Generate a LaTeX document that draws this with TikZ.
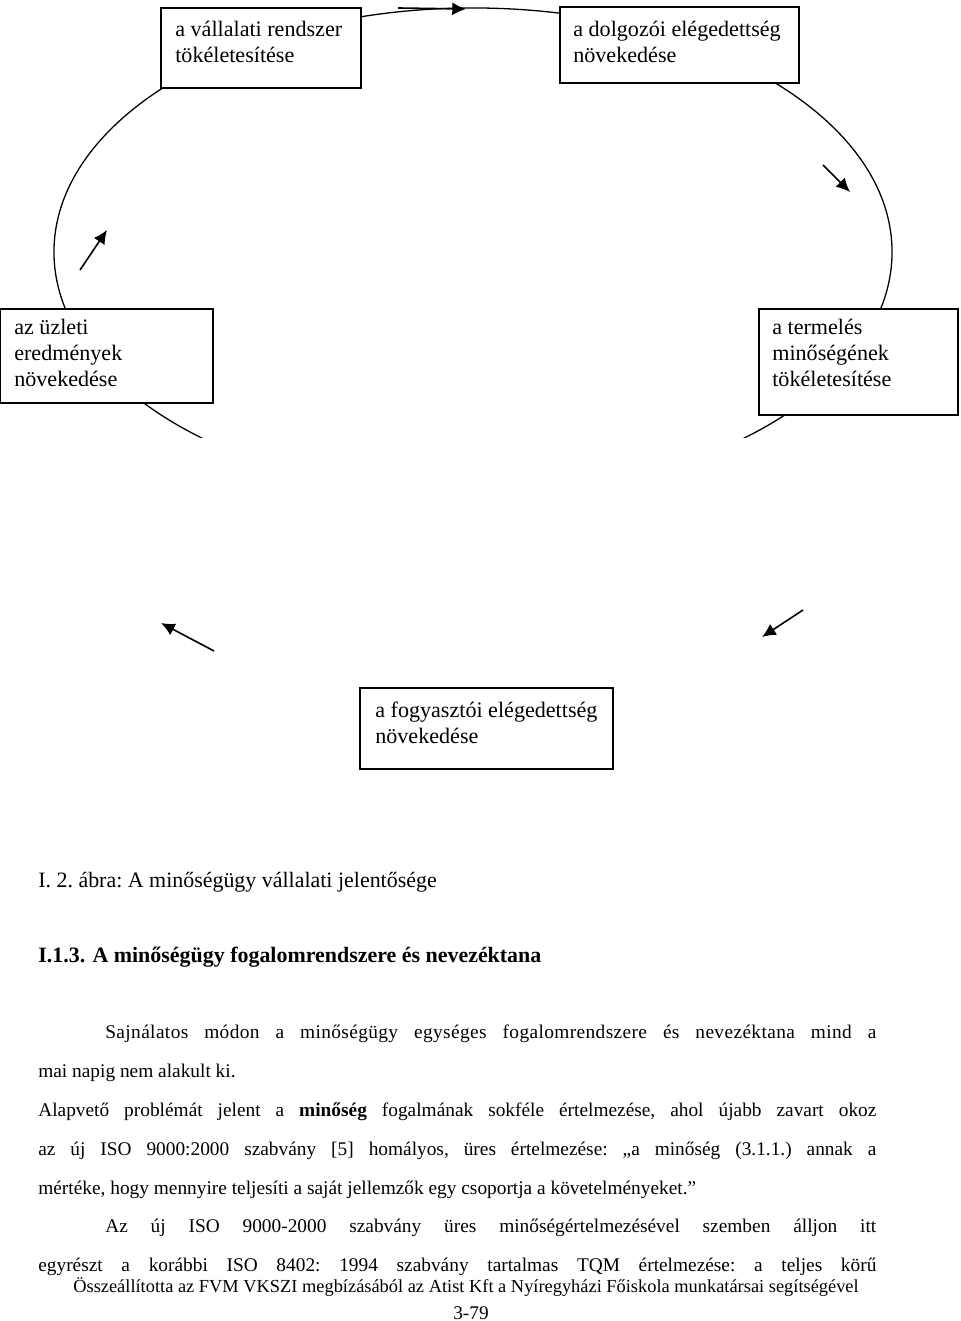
\documentclass[tikz,border=0pt]{standalone}
\usepackage{fontspec}
\setmainfont{Liberation Serif}
\usetikzlibrary{arrows.meta}

\tikzset{
  doboz/.style={draw, line width=1pt, fill=white},
  felirat/.style={anchor=north west, inner sep=0pt, align=left,
    font=\fontsize{13.7}{16.1}\selectfont},
  nyil/.style={-{Latex[length=8.5pt,width=8pt]}, line width=1pt},
  sor/.style={anchor=base west, inner sep=0pt, font=\fontsize{12}{14}\selectfont\frenchspacing},
  cimsor/.style={sor, font=\fontsize{13.6}{16}\selectfont\frenchspacing},
}

\begin{document}
\begin{tikzpicture}[x=0.62pt,y=-0.62pt]
\useasboundingbox (0,0) rectangle (960,1321);

% =========================
% KOR (ELLIPSZIS)
% =========================

\coordinate (kozep) at (473,252);
\begin{scope}
  \clip (0,0) rectangle (960,437);
  \draw[line width=0.8pt] (kozep) ellipse [x radius=259.8pt, y radius=151.3pt];
\end{scope}

% =========================
% DOBOZOK
% =========================

\draw[doboz] (161,8) rectangle (361,88);
\draw[doboz] (560,7) rectangle (799,83);
\draw[doboz] (0,309) rectangle (213,403);
\draw[doboz] (759,309) rectangle (958,415);
\draw[doboz] (360,688) rectangle (613,769);

\node[felirat] (vallalati) at (175,20.5) {a vállalati rendszer\\tökéletesítése};
\node[felirat] (dolgozoi) at (573,20.5) {a dolgozói elégedettség\\növekedése};
\node[felirat] (uzleti) at (14,318.5) {az üzleti\\eredmények\\növekedése};
\node[felirat] (termeles) at (772,318.5) {a termelés\\minőségének\\tökéletesítése};
\node[felirat] (fogyasztoi) at (375,701.5) {a fogyasztói elégedettség\\növekedése};

% =========================
% NYILAK
% =========================

\coordinate (f1) at (398,8);   \coordinate (f2) at (466,9);
\coordinate (j1) at (823,165); \coordinate (j2) at (850,192);
\coordinate (b1) at (80,270);  \coordinate (b2) at (107,230);
\coordinate (ab1) at (214,651); \coordinate (ab2) at (161,623);
\coordinate (aj1) at (803,610); \coordinate (aj2) at (762,637);

\draw[nyil] (f1) -- (f2);
\draw[nyil] (j1) -- (j2);
\draw[nyil] (b1) -- (b2);
\draw[nyil] (ab1) -- (ab2);
\draw[nyil] (aj1) -- (aj2);

% =========================
% SZOVEG
% =========================

\node[cimsor] (abra) at (38,887) {I. 2. ábra: A minőségügy vállalati jelentősége};
\node[cimsor, font=\fontsize{13.6}{16}\selectfont\bfseries] (cim) at (38,962)
  {I.1.3. A minőségügy fogalomrendszere és nevezéktana};

\node[sor] (s1) at (105,1038) {\makebox[478.0pt][s]{\addfontfeature{LetterSpace=2}Sajnálatos módon a minőségügy egységes fogalomrendszere és nevezéktana mind a}};
\node[sor] (s2) at (38,1077) {mai napig nem alakult ki.};
\node[sor] (s3) at (38,1116) {\makebox[519.6pt][s]{Alapvető problémát jelent a \textbf{minőség} fogalmának sokféle értelmezése, ahol újabb zavart okoz}};
\node[sor] (s4) at (38,1155) {\makebox[519.6pt][s]{az új ISO 9000:2000 szabvány [5] homályos, üres értelmezése: „a minőség (3.1.1.) annak a}};
\node[sor] (s5) at (38,1194) {mértéke, hogy mennyire teljesíti a saját jellemzők egy csoportja a követelményeket.”};
\node[sor] (s6) at (105,1232) {\makebox[478.0pt][s]{Az új ISO 9000-2000 szabvány üres minőségértelmezésével szemben álljon itt}};
\node[sor] (s7) at (38,1271) {\makebox[519.6pt][s]{egyrészt a korábbi ISO 8402: 1994 szabvány tartalmas TQM értelmezése: a teljes körű}};

\node[sor, anchor=base, font=\fontsize{11.4}{13}\selectfont] (labjegyzet) at (466,1292)
  {Összeállította az FVM VKSZI megbízásából az Atist Kft a Nyíregyházi Főiskola munkatársai segítségével};
\node[sor, anchor=base] (oldal) at (471,1319) {3-79};
\end{tikzpicture}
\end{document}
